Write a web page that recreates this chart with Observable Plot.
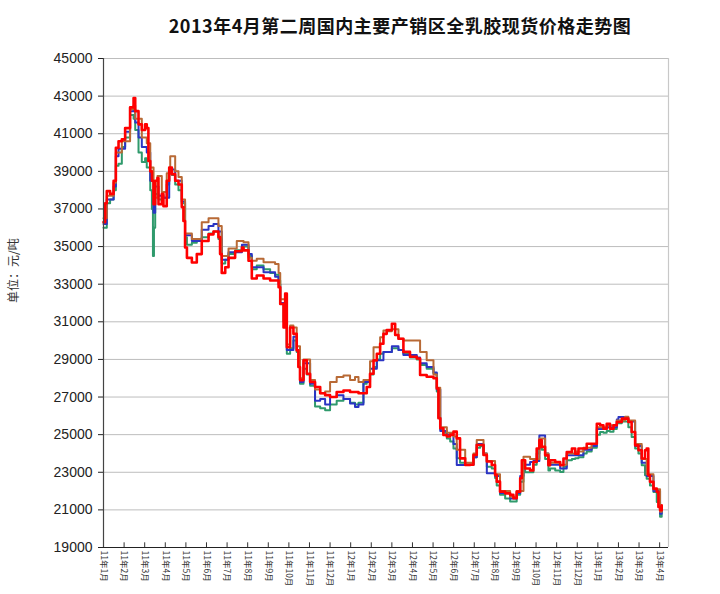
<!DOCTYPE html>
<html><head><meta charset="utf-8">
<script src="https://cdn.jsdelivr.net/npm/d3@7"></script>
<script src="https://cdn.jsdelivr.net/npm/@observablehq/plot@0.6"></script>
<style>
body{margin:0;background:#fff;overflow:hidden;}
#wrap{position:relative;width:720px;height:594px;overflow:hidden;}
#title{position:absolute;top:12px;left:80px;width:640px;text-align:center;font-family:"Noto Sans CJK SC",sans-serif;font-weight:700;font-size:18px;color:#111;letter-spacing:0.5px;}
#chart{position:absolute;top:48px;left:0;}
</style></head>
<body><div id="wrap"><div id="title">2013年4月第二周国内主要产销区全乳胶现货价格走势图</div><div id="chart"></div></div>
<script>
// x = months since 2011-01-01
const xTicks = [0,1,2,3,4,5,6,7,8,9,10,11,12,13,14,15,16,17,18,19,20,21,22,23,24,25,26,27];
const xLabels = ["11年1月","11年2月","11年3月","11年4月","11年5月","11年6月","11年7月","11年8月","11年9月","11年10月","11年11月","11年12月",
 "12年1月","12年2月","12年3月","12年4月","12年5月","12年6月","12年7月","12年8月","12年9月","12年10月","12年11月","12年12月",
 "13年1月","13年2月","13年3月","13年4月"];
const yTicks = [19000,21000,23000,25000,27000,29000,31000,33000,35000,37000,39000,41000,43000,45000];
const yLabel = "单位：元/吨";

const redSeries = [[0,36300],[0.08,37300],[0.16,37950],[0.32,37800],[0.49,38500],[0.6,40250],[0.73,40600],[0.89,40700],[1.05,41300],[1.29,42400],[1.46,42900],[1.54,42200],[1.7,41500],[1.86,41200],[2.02,41500],[2.1,41300],[2.18,39550],[2.27,39000],[2.35,38500],[2.43,37250],[2.51,38500],[2.62,38650],[2.67,37250],[2.83,37800],[2.91,37150],[3.07,38500],[3.19,39200],[3.32,38850],[3.48,38500],[3.64,38300],[3.8,37100],[3.88,36360],[3.96,34950],[4.05,34400],[4.29,34150],[4.53,34600],[4.77,35300],[5.1,35650],[5.34,35800],[5.58,35500],[5.66,34600],[5.74,33600],[5.91,33900],[6.07,34400],[6.39,34750],[6.72,34950],[6.8,34800],[7.04,34250],[7.2,33300],[7.44,33460],[7.77,33300],[8.09,33200],[8.33,33200],[8.5,32840],[8.58,31950],[8.74,30700],[8.82,32500],[8.9,29650],[9.06,30700],[9.22,30360],[9.38,29480],[9.46,28600],[9.54,27900],[9.71,28950],[9.87,28240],[10.03,27800],[10.27,27530],[10.52,27200],[10.76,27100],[11.0,27000],[11.32,27270],[11.65,27350],[11.97,27270],[12.21,27270],[12.38,27200],[12.62,27200],[12.78,27530],[12.94,28240],[13.11,28950],[13.27,29300],[13.43,29830],[13.59,30360],[13.75,30560],[14.0,30900],[14.16,30300],[14.32,30100],[14.56,29400],[14.88,29140],[15.21,29050],[15.37,28170],[15.69,28080],[16.02,28000],[16.18,27460],[16.26,25870],[16.35,25340],[16.5,24980],[16.67,24900],[16.83,25000],[16.99,25160],[17.15,24800],[17.31,23740],[17.56,23390],[17.8,23400],[17.96,23920],[18.12,24450],[18.29,24450],[18.45,23920],[18.61,23570],[18.85,23390],[19.01,22860],[19.09,22500],[19.25,21970],[19.5,21880],[19.74,21800],[19.9,21620],[20.06,21970],[20.23,22680],[20.31,23640],[20.47,23200],[20.71,23100],[20.87,23550],[21.03,24260],[21.16,24700],[21.28,24350],[21.44,23900],[21.6,23370],[21.68,23640],[21.93,23550],[22.17,23370],[22.33,23730],[22.49,24080],[22.74,24260],[22.9,23990],[23.06,24260],[23.3,24260],[23.46,24520],[23.7,24520],[23.95,25580],[24.11,25500],[24.27,25320],[24.43,25580],[24.59,25320],[24.76,25500],[24.92,25670],[25.16,25850],[25.32,25850],[25.48,25670],[25.64,25140],[25.81,24430],[25.97,24170],[26.13,23730],[26.29,24170],[26.37,24260],[26.45,22840],[26.53,22490],[26.7,22130],[26.86,21960],[26.94,21160],[27.02,20980],[27.1,21250]];

const greenSeries = [[0,36000],[0.16,37300],[0.32,37500],[0.49,38000],[0.6,39300],[0.73,39400],[0.89,40300],[1.05,40800],[1.29,42000],[1.46,41800],[1.54,41200],[1.7,40000],[1.86,39500],[2.02,39700],[2.1,39200],[2.27,38000],[2.35,37000],[2.4,34500],[2.45,36000],[2.51,37800],[2.67,37500],[2.83,37600],[3.07,38300],[3.19,39000],[3.32,38800],[3.48,38300],[3.64,38000],[3.8,37300],[3.96,35500],[4.05,35100],[4.29,35200],[4.53,35300],[4.77,35500],[5.1,35700],[5.34,35800],[5.58,35400],[5.74,34100],[5.91,34300],[6.07,34600],[6.39,34800],[6.72,35000],[7.04,34500],[7.2,33800],[7.44,34000],[7.77,33800],[8.09,33600],[8.33,33500],[8.5,33200],[8.58,32000],[8.74,31000],[8.9,29300],[9.06,29600],[9.22,30000],[9.38,29400],[9.54,27700],[9.71,28500],[9.87,28200],[10.03,27600],[10.27,26500],[10.52,26400],[10.76,26300],[11.0,26600],[11.32,26800],[11.65,26900],[11.97,26700],[12.21,26600],[12.38,26700],[12.62,27700],[12.78,27900],[12.94,28200],[13.11,28600],[13.27,29000],[13.43,29300],[13.59,29400],[14.0,29600],[14.32,29500],[14.56,29300],[14.88,29100],[15.21,29000],[15.37,28700],[15.69,28500],[16.02,28250],[16.18,27300],[16.26,25900],[16.35,25300],[16.5,25100],[16.67,24800],[16.83,24630],[16.99,24270],[17.15,23740],[17.31,23500],[17.56,23400],[17.8,23400],[17.96,23800],[18.12,24300],[18.29,24400],[18.45,23920],[18.61,23300],[18.85,23200],[19.01,22700],[19.09,22300],[19.25,21800],[19.5,21600],[19.74,21440],[19.9,21450],[20.06,21800],[20.23,22500],[20.39,23300],[20.47,23000],[20.71,23000],[20.87,23400],[21.03,24000],[21.16,24500],[21.28,24200],[21.44,23700],[21.6,23100],[21.68,23200],[21.93,23100],[22.17,23020],[22.33,23300],[22.49,23640],[22.74,23700],[22.9,23750],[23.06,23800],[23.3,24000],[23.46,24100],[23.7,24300],[23.95,25000],[24.11,25140],[24.27,25100],[24.43,25200],[24.59,25150],[24.76,25300],[24.92,25600],[25.16,25700],[25.32,25700],[25.48,25400],[25.64,24880],[25.81,24260],[25.97,24000],[26.13,23370],[26.29,22840],[26.37,22660],[26.53,22300],[26.7,21950],[26.86,21420],[27.02,20630],[27.1,20900]];

const blueSeries = [[0,36200],[0.16,37500],[0.49,38200],[0.6,39800],[0.73,40200],[1.05,41100],[1.29,42200],[1.46,42300],[1.54,41600],[1.7,40800],[1.86,40300],[2.1,40000],[2.27,38500],[2.43,36800],[2.51,38200],[2.67,37700],[2.91,37600],[3.19,39100],[3.48,38500],[3.8,37400],[3.96,35600],[4.29,35300],[4.77,35900],[5.1,36100],[5.34,36200],[5.58,35800],[5.74,34300],[6.07,34700],[6.72,35100],[7.04,34600],[7.2,33900],[7.77,33640],[8.33,33400],[8.5,33000],[8.58,32000],[8.9,29500],[9.22,30200],[9.38,29500],[9.54,27800],[9.71,28800],[10.03,27700],[10.27,26800],[10.52,26900],[10.76,26600],[11.0,27000],[11.32,27100],[11.65,26900],[11.97,26650],[12.21,26470],[12.38,26600],[12.62,27800],[12.94,28500],[13.27,28950],[13.59,29400],[14.0,29700],[14.32,29500],[14.56,29230],[15.21,29100],[15.37,28800],[15.69,28600],[16.02,28300],[16.18,27400],[16.35,25200],[16.67,25000],[16.99,24500],[17.15,23390],[17.56,23400],[17.96,23800],[18.12,24500],[18.45,24000],[18.61,22950],[19.01,22800],[19.25,21900],[19.74,21600],[20.06,21900],[20.23,22800],[20.39,23400],[20.71,23550],[20.87,23600],[21.16,24960],[21.44,24000],[21.6,23400],[22.17,23200],[22.49,23900],[22.9,23900],[23.3,24200],[23.7,24400],[23.95,25300],[24.43,25400],[24.92,25800],[25.0,25940],[25.32,25900],[25.48,25700],[25.81,24400],[26.13,23500],[26.37,22800],[26.7,22000],[27.02,20800],[27.1,21000]];

const brownSeries = [[0,36500],[0.16,37700],[0.49,38400],[0.6,40000],[0.89,40600],[1.29,42300],[1.46,42500],[1.54,41800],[1.86,40800],[2.1,40500],[2.27,39200],[2.43,37600],[2.62,38750],[2.83,37900],[3.07,38900],[3.24,39800],[3.48,39000],[3.64,38700],[3.8,37500],[3.96,35700],[4.29,35400],[4.77,36300],[5.1,36500],[5.34,36500],[5.58,36100],[5.74,34500],[6.07,34900],[6.47,35300],[6.8,35230],[7.04,34400],[7.2,34250],[7.44,34350],[7.77,34170],[8.09,34170],[8.33,34080],[8.5,33600],[8.58,32200],[8.9,29800],[9.06,30800],[9.22,30700],[9.38,29700],[9.54,28000],[9.71,29000],[10.03,27900],[10.27,27400],[10.52,27200],[10.76,27300],[11.0,27800],[11.32,28060],[11.65,28150],[11.97,27900],[12.21,28060],[12.38,27800],[12.62,27900],[12.94,28900],[13.11,29650],[13.43,30180],[13.59,30540],[13.75,30500],[14.0,30600],[14.32,30100],[14.56,30000],[14.88,30000],[15.21,30000],[15.37,29400],[15.69,28960],[16.02,28200],[16.18,27500],[16.35,25400],[16.67,25100],[16.99,24900],[17.15,24200],[17.56,23500],[17.96,24000],[18.12,24720],[18.45,24000],[18.61,23600],[19.01,22900],[19.25,22000],[19.74,21700],[20.06,22000],[20.39,23830],[20.71,23700],[20.87,23700],[21.16,24800],[21.44,24000],[21.6,23500],[22.17,23400],[22.49,24000],[22.9,24100],[23.3,24300],[23.7,24500],[23.95,25400],[24.43,25500],[24.92,25750],[25.32,25950],[25.48,25750],[25.81,24500],[26.13,23700],[26.37,22900],[26.7,22100],[27.02,20900],[27.1,21100]];

const xMax = 27.43;
const chart = Plot.plot({
  width: 720, height: 546,
  marginLeft: 103, marginRight: 52, marginTop: 10, marginBottom: 47,
  style: {fontFamily: '"Liberation Sans Narrow","Liberation Sans",Arial,sans-serif', background: "#fff"},
  x: {domain: [0, xMax]},
  y: {domain: [19000, 45000]},
  marks: [
    Plot.gridY(yTicks, {stroke: "#bdbdbd", strokeOpacity: 1, strokeWidth: 1}),
    Plot.ruleX([xMax], {stroke: "#c8c8c8", strokeWidth: 1.2}),
    Plot.axisY(yTicks, {tickSize: 5, tickPadding: 6, fontSize: 14, tickFormat: d => String(d), label: null, color: "#222"}),
    Plot.text([yLabel], {frameAnchor: "left", dx: -89, rotate: -90, fontSize: 12, fill: "#333", fontFamily: '"Noto Sans CJK SC",sans-serif'}),
    Plot.axisX(xTicks, {tickSize: 0, tickRotate: 90, tickPadding: 3, fontSize: 8.5, tickFormat: i => xLabels[i], label: null, color: "#333", fontFamily: '"Noto Sans CJK SC",sans-serif'}),
    Plot.ruleX(xTicks, {y1: 19000, y2: 19250, stroke: "#333"}),
    Plot.line(greenSeries, {x: d => d[0], y: d => d[1], stroke: "#2f9a6c", strokeWidth: 2, curve: "step-after"}),
    Plot.line(blueSeries, {x: d => d[0], y: d => d[1], stroke: "#2b35c4", strokeWidth: 2, curve: "step-after"}),
    Plot.line(brownSeries, {x: d => d[0], y: d => d[1], stroke: "#b86a36", strokeWidth: 2, curve: "step-after"}),
    Plot.line(redSeries, {x: d => d[0], y: d => d[1], stroke: "#ff0000", strokeWidth: 2.6, curve: "step-after"}),
    Plot.ruleX([0], {stroke: "#444", strokeWidth: 1.2}),
    Plot.ruleY([19000], {stroke: "#222", strokeWidth: 1.2})
  ]
});
document.getElementById("chart").appendChild(chart);
</script></body></html>
